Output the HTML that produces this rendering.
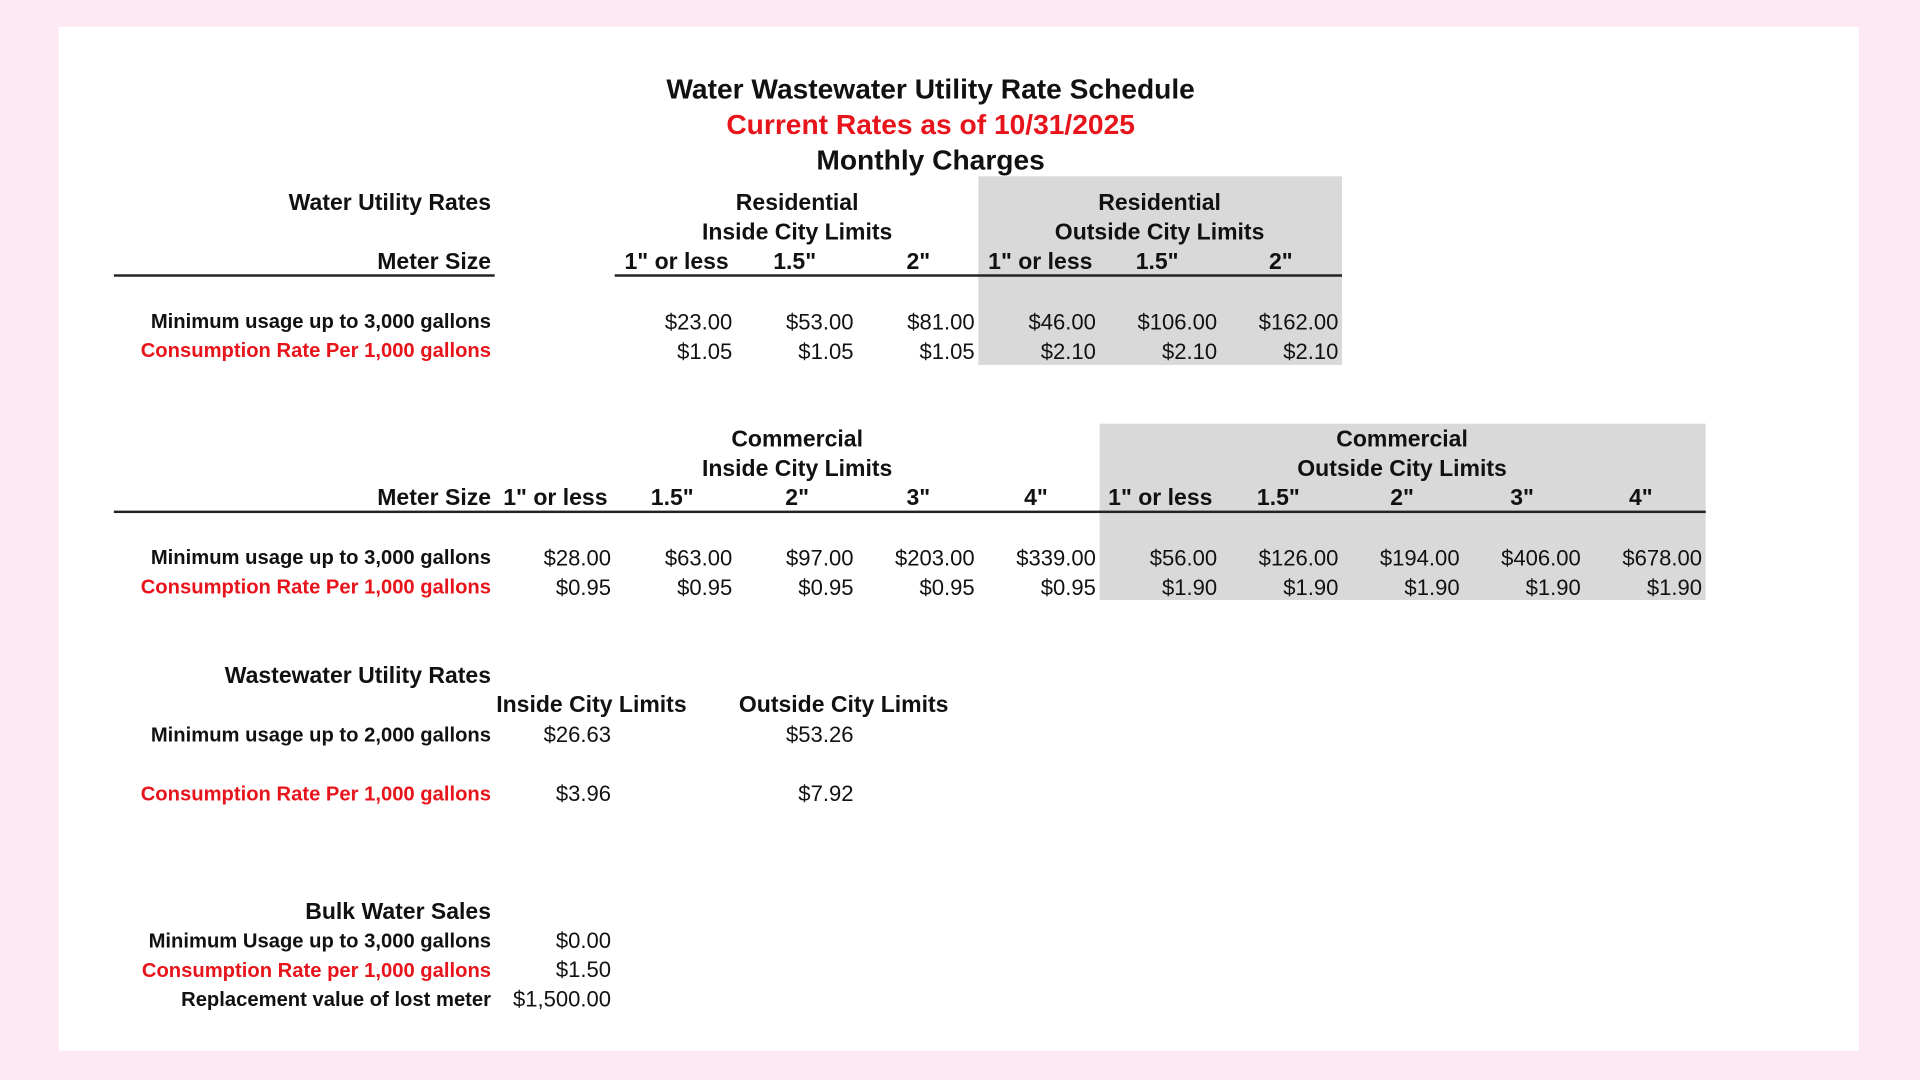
<!DOCTYPE html>
<html><head><meta charset="utf-8"><style>
html,body{margin:0;padding:0;width:1920px;height:1080px;overflow:hidden;background:#fde9f4}
#c{position:absolute;left:0;top:0;width:1568px;height:882px;transform:scale(1.22449);transform-origin:0 0;font-family:"Liberation Sans",Arial,sans-serif;color:#111}
.p{position:absolute;left:48px;top:22px;width:1470px;height:836px;background:#fff}
.g{position:absolute;background:#d9d9d9}
.l{position:absolute;height:1.5px;background:#222}
.t{position:absolute;white-space:nowrap;transform:translateY(-50%);line-height:1}
.c{transform:translate(-50%,-50%)}
.b{font-weight:bold}
.h{font-weight:bold;font-size:18.8px}
.lb{font-weight:bold;font-size:16.5px}
.d{font-size:18px}
.red{color:#e8141b}
</style></head><body><div id="c">
<div class="p"></div>
<div class="g" style="left:799px;top:144px;width:297px;height:154px"></div>
<div class="g" style="left:898px;top:346px;width:495px;height:144px"></div>

<div class="t c b" style="left:760px;top:73px;font-size:23px">Water Wastewater Utility Rate Schedule</div>
<div class="t c b red" style="left:760px;top:102px;font-size:23px">Current Rates as of 10/31/2025</div>
<div class="t c b" style="left:760px;top:131px;font-size:23px">Monthly Charges</div>

<!-- Residential -->
<div class="t h" style="right:1167px;top:166px">Water Utility Rates</div>
<div class="t h c" style="left:651px;top:166px">Residential</div>
<div class="t h c" style="left:651px;top:190px">Inside City Limits</div>
<div class="t h c" style="left:947px;top:166px">Residential</div>
<div class="t h c" style="left:947px;top:190px">Outside City Limits</div>
<div class="t h" style="right:1167px;top:214px">Meter Size</div>
<div class="t h" style="left:510px;top:214px">1" or less</div>
<div class="t h c" style="left:649px;top:214px">1.5"</div>
<div class="t h c" style="left:750px;top:214px">2"</div>
<div class="t h" style="left:807px;top:214px">1" or less</div>
<div class="t h c" style="left:945px;top:214px">1.5"</div>
<div class="t h c" style="left:1046px;top:214px">2"</div>
<div class="l" style="left:93px;top:224px;width:311px"></div>
<div class="l" style="left:502px;top:224px;width:594px"></div>

<div class="t lb" style="right:1167px;top:263px">Minimum usage up to 3,000 gallons</div>
<div class="t lb red" style="right:1167px;top:287px">Consumption Rate Per 1,000 gallons</div>
<div class="t d" style="right:970px;top:263px">$23.00</div>
<div class="t d" style="right:871px;top:263px">$53.00</div>
<div class="t d" style="right:772px;top:263px">$81.00</div>
<div class="t d" style="right:673px;top:263px">$46.00</div>
<div class="t d" style="right:574px;top:263px">$106.00</div>
<div class="t d" style="right:475px;top:263px">$162.00</div>
<div class="t d" style="right:970px;top:287px">$1.05</div>
<div class="t d" style="right:871px;top:287px">$1.05</div>
<div class="t d" style="right:772px;top:287px">$1.05</div>
<div class="t d" style="right:673px;top:287px">$2.10</div>
<div class="t d" style="right:574px;top:287px">$2.10</div>
<div class="t d" style="right:475px;top:287px">$2.10</div>

<!-- Commercial -->
<div class="t h c" style="left:651px;top:359px">Commercial</div>
<div class="t h c" style="left:651px;top:383px">Inside City Limits</div>
<div class="t h c" style="left:1145px;top:359px">Commercial</div>
<div class="t h c" style="left:1145px;top:383px">Outside City Limits</div>
<div class="t h" style="right:1167px;top:407px">Meter Size</div>
<div class="t h" style="left:411px;top:407px">1" or less</div>
<div class="t h c" style="left:549px;top:407px">1.5"</div>
<div class="t h c" style="left:651px;top:407px">2"</div>
<div class="t h c" style="left:750px;top:407px">3"</div>
<div class="t h c" style="left:846px;top:407px">4"</div>
<div class="t h" style="left:905px;top:407px">1" or less</div>
<div class="t h c" style="left:1044px;top:407px">1.5"</div>
<div class="t h c" style="left:1145px;top:407px">2"</div>
<div class="t h c" style="left:1243px;top:407px">3"</div>
<div class="t h c" style="left:1340px;top:407px">4"</div>
<div class="l" style="left:93px;top:417px;width:1300px"></div>

<div class="t lb" style="right:1167px;top:456px">Minimum usage up to 3,000 gallons</div>
<div class="t lb red" style="right:1167px;top:480px">Consumption Rate Per 1,000 gallons</div>
<div class="t d" style="right:1069px;top:456px">$28.00</div>
<div class="t d" style="right:970px;top:456px">$63.00</div>
<div class="t d" style="right:871px;top:456px">$97.00</div>
<div class="t d" style="right:772px;top:456px">$203.00</div>
<div class="t d" style="right:673px;top:456px">$339.00</div>
<div class="t d" style="right:574px;top:456px">$56.00</div>
<div class="t d" style="right:475px;top:456px">$126.00</div>
<div class="t d" style="right:376px;top:456px">$194.00</div>
<div class="t d" style="right:277px;top:456px">$406.00</div>
<div class="t d" style="right:178px;top:456px">$678.00</div>
<div class="t d" style="right:1069px;top:480px">$0.95</div>
<div class="t d" style="right:970px;top:480px">$0.95</div>
<div class="t d" style="right:871px;top:480px">$0.95</div>
<div class="t d" style="right:772px;top:480px">$0.95</div>
<div class="t d" style="right:673px;top:480px">$0.95</div>
<div class="t d" style="right:574px;top:480px">$1.90</div>
<div class="t d" style="right:475px;top:480px">$1.90</div>
<div class="t d" style="right:376px;top:480px">$1.90</div>
<div class="t d" style="right:277px;top:480px">$1.90</div>
<div class="t d" style="right:178px;top:480px">$1.90</div>

<!-- Wastewater -->
<div class="t h" style="right:1167px;top:552px">Wastewater Utility Rates</div>
<div class="t h c" style="left:483px;top:576px">Inside City Limits</div>
<div class="t h c" style="left:689px;top:576px">Outside City Limits</div>
<div class="t lb" style="right:1167px;top:601px">Minimum usage up to 2,000 gallons</div>
<div class="t d" style="right:1069px;top:600px">$26.63</div>
<div class="t d" style="right:871px;top:600px">$53.26</div>
<div class="t lb red" style="right:1167px;top:649px">Consumption Rate Per 1,000 gallons</div>
<div class="t d" style="right:1069px;top:648px">$3.96</div>
<div class="t d" style="right:871px;top:648px">$7.92</div>

<!-- Bulk -->
<div class="t h" style="right:1167px;top:745px">Bulk Water Sales</div>
<div class="t lb" style="right:1167px;top:769px">Minimum Usage up to 3,000 gallons</div>
<div class="t lb red" style="right:1167px;top:793px">Consumption Rate per 1,000 gallons</div>
<div class="t lb" style="right:1167px;top:817px">Replacement value of lost meter</div>
<div class="t d" style="right:1069px;top:768px">$0.00</div>
<div class="t d" style="right:1069px;top:792px">$1.50</div>
<div class="t d" style="right:1069px;top:816px">$1,500.00</div>
</div></body></html>
